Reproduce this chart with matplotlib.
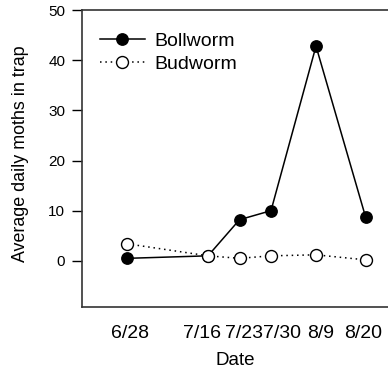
import datetime as dt
import matplotlib
matplotlib.use("Agg")
import matplotlib.pyplot as plt
from matplotlib.transforms import ScaledTranslation

plt.rcParams["font.family"] = ["Liberation Sans", "DejaVu Sans"]

dates = ["6/28", "7/16", "7/23", "7/30", "8/9", "8/20"]
bollworm = [0.5, 1.0, 8.2, 10.0, 42.8, 8.8]
budworm = [3.4, 1.0, 0.5, 1.0, 1.2, 0.2]
yticks = [0, 10, 20, 30, 40, 50]

# horizontal nudges (pixels) that keep the crowded date labels legible
label_nudge_px = [3, -6, 4, 11, 5, -2]


def day_of_year(label):
    m, d = (int(v) for v in label.split("/"))
    return dt.date(2001, m, d).timetuple().tm_yday


x = [day_of_year(d) for d in dates]

DPI = 100
fig = plt.figure(figsize=(3.88, 3.68), dpi=DPI)
ax = fig.add_axes([82 / 388, 1 - 307 / 368, 1 - 82 / 388, (307 - 10) / 368])

ax.plot(x, bollworm, color="black", lw=1.1, marker="o", markersize=8.2,
        markerfacecolor="black", markeredgecolor="black", label="Bollworm", zorder=3)
ax.plot(x, budworm, color="black", lw=1.1, ls=(0, (1, 2.5)), marker="o", markersize=8.6,
        markerfacecolor="white", markeredgecolor="black", markeredgewidth=1.0,
        label="Budworm", zorder=4)

ax.set_xlim(169, 237)
ax.set_ylim(-9.2, 50)
ax.set_yticks(yticks)
ax.set_xticks(x)
ax.set_xticklabels(dates)
ax.tick_params(axis="x", length=0, pad=13, labelsize=14)
ax.tick_params(axis="y", length=7, width=1, labelsize=11, pad=5)
for lbl, dx in zip(ax.get_xticklabels(), label_nudge_px):
    lbl.set_transform(lbl.get_transform() + ScaledTranslation(dx / DPI, 0, fig.dpi_scale_trans))

for side in ("left", "bottom", "top"):
    ax.spines[side].set_linewidth(1.2)
    ax.spines[side].set_color("#333333")
ax.spines["right"].set_visible(False)

ax.set_xlabel("Date", fontsize=13.5, labelpad=7)
ax.set_ylabel("Average daily moths in trap", fontsize=12.9, labelpad=14)
ax.yaxis.label.set_y(0.515)

ax.legend(loc="upper left", frameon=False, fontsize=14, handlelength=2.3,
          handletextpad=0.5, borderaxespad=0, borderpad=0, labelspacing=0.28,
          bbox_to_anchor=(18 / 306, 0.925))

fig.savefig("out.png", dpi=DPI)
